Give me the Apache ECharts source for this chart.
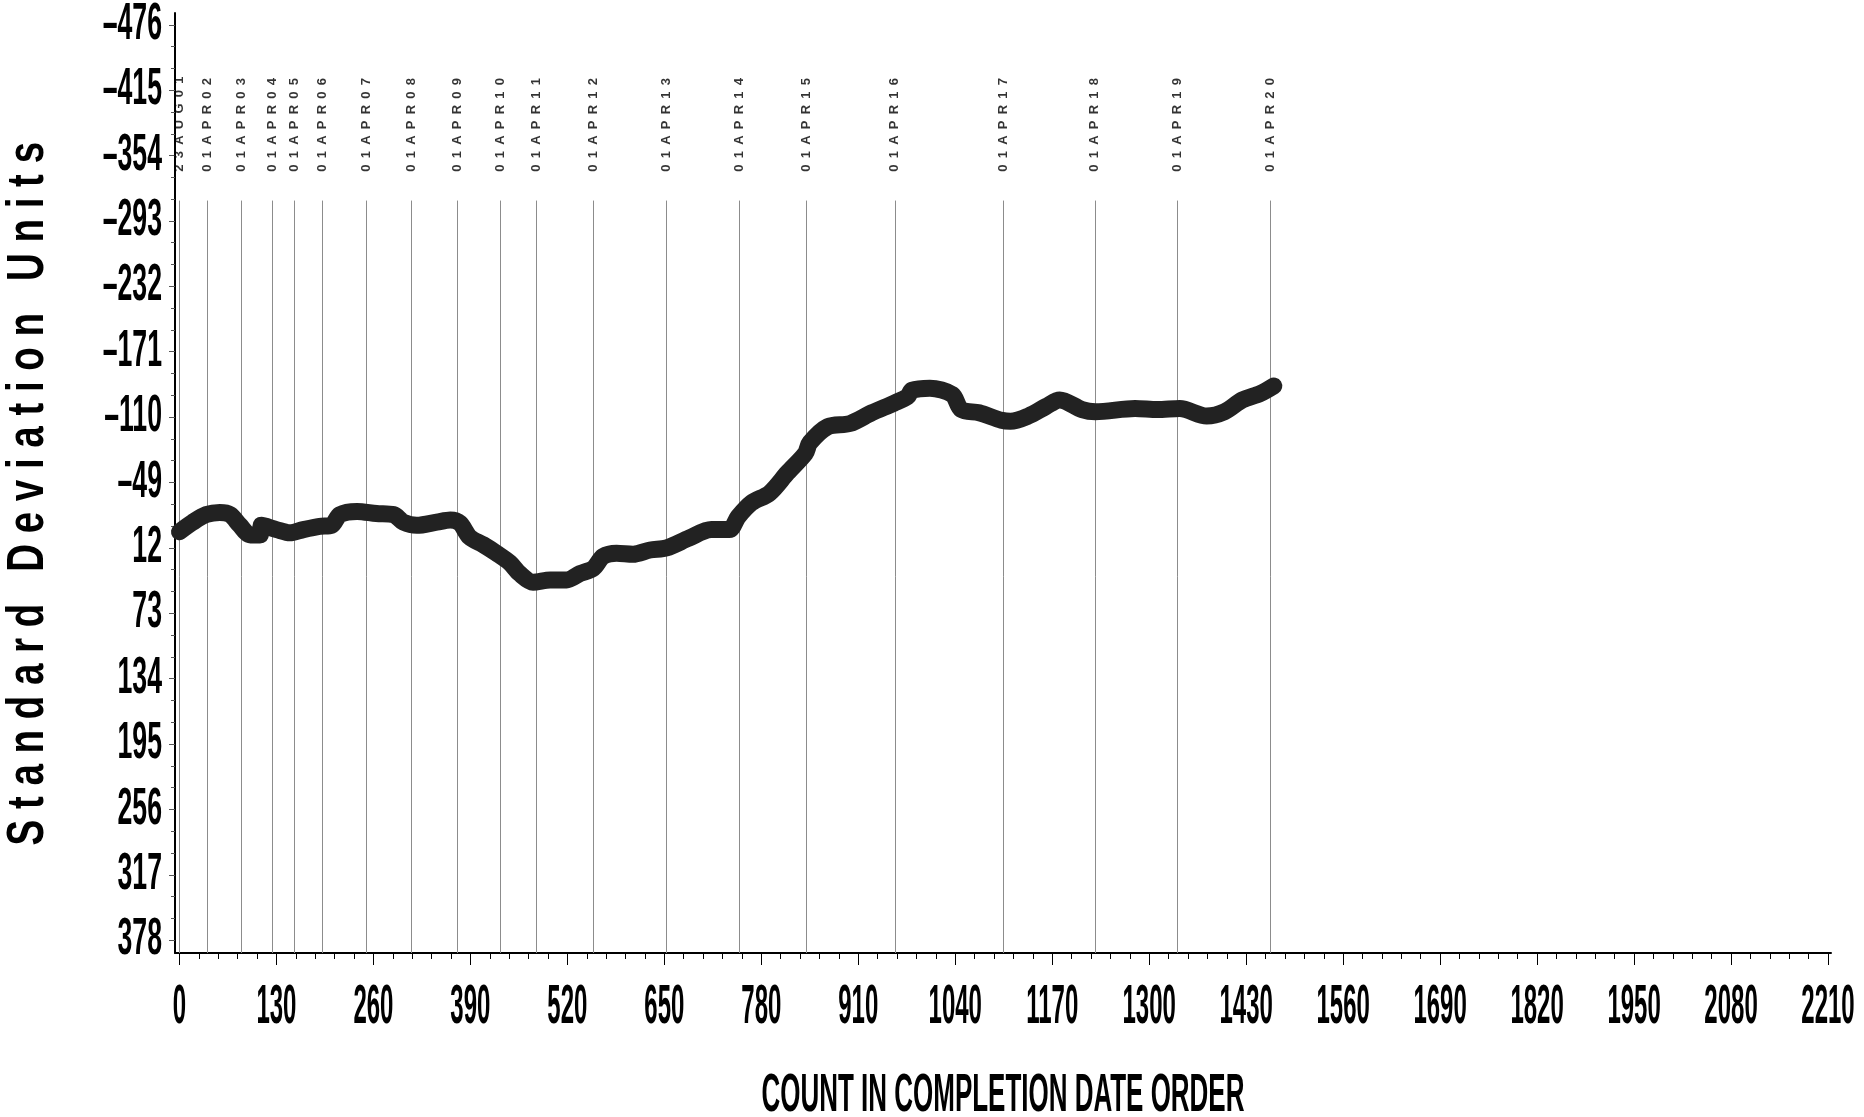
<!DOCTYPE html>
<html><head><meta charset="utf-8">
<script src="https://cdn.jsdelivr.net/npm/echarts@6/dist/echarts.min.js"></script>
<style>html,body{margin:0;padding:0;background:#fff}#c{width:1864px;height:1117px}</style>
</head><body><div id="c"></div>
<script>
// ---- data ----
const countX = [0, 18, 36, 54, 68, 81, 95, 108, 110, 130, 148, 166, 188, 204, 215, 238, 264, 287, 300, 318, 345, 363, 376, 389, 407, 425, 443, 456, 474, 497, 519, 537, 555, 568, 586, 608, 631, 653, 683, 713, 737, 749, 767, 791, 815, 839, 845, 869, 899, 928, 958, 976, 982, 1006, 1036, 1048, 1072, 1102, 1114, 1138, 1162, 1180, 1210, 1228, 1281, 1311, 1341, 1377, 1401, 1425, 1449, 1467];
const sdValues = [-3, -12, -19, -21, -19, -9, 0, 0, -9, -5, -2, -5, -8, -9, -19, -22, -20, -19, -12, -9, -12, -14, -11, 2, 9, 17, 26, 36, 44, 42, 42, 36, 31, 20, 17, 18, 14, 12, 3, -5, -5, -17, -30, -39, -58, -76, -86, -101, -104, -114, -123, -129, -135, -137, -131, -117, -114, -107, -106, -111, -120, -126, -117, -115, -118, -117, -118, -111, -115, -126, -132, -139];
const refNames = ['23AUG01', '01APR02', '01APR03', '01APR04', '01APR05', '01APR06', '01APR07', '01APR08', '01APR09', '01APR10', '01APR11', '01APR12', '01APR13', '01APR14', '01APR15', '01APR16', '01APR17', '01APR18', '01APR19', '01APR20'];
const refX = [0, 37, 83, 125, 154, 191, 250, 311, 373, 430, 478, 555, 653, 750, 840, 959, 1105, 1227, 1338, 1462];
const yTicks = [-476, -415, -354, -293, -232, -171, -110, -49, 12, 73, 134, 195, 256, 317, 378];
const xTicks = [0, 130, 260, 390, 520, 650, 780, 910, 1040, 1170, 1300, 1430, 1560, 1690, 1820, 1950, 2080, 2210];
const xTitle = 'COUNT IN COMPLETION DATE ORDER';
const yTitle = 'Standard Deviation Units';

// axis extents / reference-line extents
const X_MIN = -6, X_MAX = 2214, Y_MIN = -487, Y_MAX = 390;
const REF_TOP = -312, LABEL_Y = -339;

// minor ticks: each major x gap in 5, each major y gap in 3
const xMinor = [];
for (let i = 0; i < xTicks.length - 1; i++) for (let k = 1; k < 5; k++) xMinor.push(xTicks[i] + (xTicks[i+1]-xTicks[i]) * k / 5);
const yMinor = [];
for (let i = 0; i < yTicks.length - 1; i++) for (let k = 1; k < 3; k++) yMinor.push(yTicks[i] + (yTicks[i+1]-yTicks[i]) * k / 3);

const SANS = '"Liberation Sans", Arial, Helvetica, sans-serif';
const yFmt = v => (v < 0 ? '\u2013' + Math.abs(v) : String(v));
const yTitleText = yTitle.split(' ').map(w => w.split('').join(' ')).join('   ') + '  ';

const chart = echarts.init(document.getElementById('c'), null, {renderer: 'canvas'});
chart.setOption({
  animation: false,
  backgroundColor: '#fff',
  grid: {left: 175, right: 33, top: 13, bottom: 164, containLabel: false, outerBoundsMode: 'none'},
  xAxis: [{
    type: 'value', min: X_MIN, max: X_MAX, position: 'bottom',
    axisLine: {show: true, onZero: false, lineStyle: {color: '#000', width: 2}},
    axisTick: {show: true, customValues: xTicks, length: 12, lineStyle: {color: '#000', width: 1}},
    axisLabel: {show: true, customValues: xTicks, margin: 55, verticalAlign: 'middle',
      showMinLabel: true, showMaxLabel: true, hideOverlap: false,
      formatter: v => String(v),
      fontFamily: SANS, fontWeight: 'bold', fontSize: 30, color: '#000'},
    splitLine: {show: false},
    name: xTitle, nameLocation: 'middle', nameGap: 143,
    nameTextStyle: {fontFamily: SANS, fontWeight: 'bold', fontSize: 53, color: '#000', verticalAlign: 'middle'}
  }, {
    type: 'value', min: X_MIN, max: X_MAX, position: 'bottom',
    axisLine: {show: false, onZero: false},
    axisTick: {show: true, customValues: xMinor, length: 6, lineStyle: {color: '#000', width: 1}},
    axisLabel: {show: false}, splitLine: {show: false}
  }],
  yAxis: [{
    type: 'value', inverse: true, min: Y_MIN, max: Y_MAX, position: 'left',
    axisLine: {show: true, onZero: false, lineStyle: {color: '#000', width: 2}},
    axisTick: {show: true, customValues: yTicks, length: 6, lineStyle: {color: '#555', width: 1}},
    axisLabel: {show: true, customValues: yTicks, margin: 13,
      showMinLabel: true, showMaxLabel: true, hideOverlap: false,
      formatter: yFmt,
      fontFamily: SANS, fontWeight: 'bold', fontSize: 41, color: '#000'},
    splitLine: {show: false},
    name: yTitleText, nameLocation: 'middle', nameGap: 146,
    nameTextStyle: {fontFamily: SANS, fontWeight: 'bold', fontSize: 52, color: '#000', verticalAlign: 'middle'}
  }, {
    type: 'value', inverse: true, min: Y_MIN, max: Y_MAX, position: 'left',
    axisLine: {show: false, onZero: false},
    axisTick: {show: true, customValues: yMinor, length: 4, lineStyle: {color: '#555', width: 1}},
    axisLabel: {show: false}, splitLine: {show: false}
  }],
  series: [{
    type: 'scatter', xAxisIndex: 0, yAxisIndex: 0, z: 1,
    symbolSize: 1, itemStyle: {color: 'transparent'}, silent: true,
    data: refX.map((x, i) => [x, LABEL_Y, refNames[i]]),
    label: {show: true, position: 'inside', rotate: 90, align: 'left', verticalAlign: 'middle',
      formatter: p => p.value[2].split('').join(' \u2009'),
      fontFamily: SANS, fontWeight: 'bold', fontSize: 13, color: '#000'},
    markLine: {
      silent: true, symbol: ['none', 'none'], label: {show: false},
      lineStyle: {color: '#8c8c8c', width: 1, type: 'solid'},
      emphasis: {disabled: true},
      data: refX.map(x => [{coord: [x, Y_MAX]}, {coord: [x, REF_TOP]}])
    }
  }, {
    type: 'line', xAxisIndex: 0, yAxisIndex: 0, z: 5,
    data: countX.map((x, i) => [x, sdValues[i]]),
    showSymbol: false, symbol: 'none', smooth: 0.3,
    lineStyle: {color: '#222', width: 17, cap: 'round', join: 'round'}
  }]
});

// The reference uses a strongly condensed, tall face; stretch the library's own axis texts.
(function squeeze() {
  const xSet = new Set(xTicks.map(String));
  const ySet = new Set(yTicks.map(yFmt));
  const zr = chart.getZr();
  const visit = el => {
    const t = el.style && el.style.text;
    if (el.type === 'text' && t != null) {
      let sx = null, sy = 1;
      if (xSet.has(t)) { sx = 0.80; sy = 1.85; }
      else if (ySet.has(t)) { sx = 0.65; sy = 1.25; }
      else if (t === xTitle) sx = 0.49;
      else if (t === yTitleText) sx = 0.74;
      if (sx) { el.scaleX = sx; el.scaleY = sy; el.markRedraw(); }
    }
  };
  zr.storage.getRoots().forEach(r => { visit(r); if (r.traverse) r.traverse(visit); });
  zr.refresh();
})();
</script>
</body></html>
